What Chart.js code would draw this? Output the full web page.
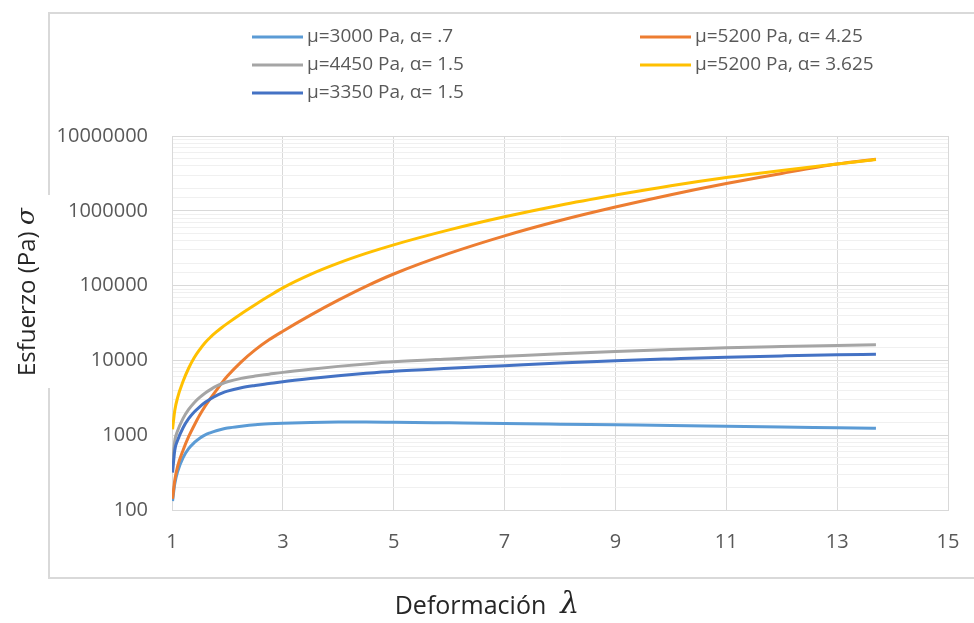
<!DOCTYPE html>
<html>
<head>
<meta charset="utf-8">
<title>Esfuerzo vs deformación</title>
<script src="https://cdn.jsdelivr.net/npm/chart.js"></script>
<style>
    body { margin: 0; background: #ffffff; }
    #wrap { position: relative; width: 974px; height: 623px; }
</style>
</head>
<body>
<div id="wrap"><canvas id="chartCanvas"></canvas></div>
<script>
    // deformación (lambda) sample points
    var lambda = [1.01, 1.05, 1.1, 1.2, 1.3, 1.4, 1.5, 1.6, 1.7, 1.8, 1.9, 2, 2.25, 2.5, 2.75, 3, 3.5, 4, 4.5, 5, 6, 7, 8, 9, 10, 11, 12, 13, 13.7];

    // esfuerzo (Pa) per curve
    var mu3000_a07 = [132, 224, 324, 501, 661, 794, 912, 1012, 1084, 1148, 1202, 1245, 1318, 1380, 1419, 1445, 1479, 1496, 1500, 1489, 1462, 1435, 1406, 1377, 1349, 1318, 1288, 1259, 1239];
    var mu5200_a425 = [141, 251, 380, 631, 955, 1349, 1862, 2455, 3162, 3981, 5012, 6166, 9550, 13800, 18840, 24550, 40270, 63830, 97720, 142900, 269200, 462400, 741300, 1122000, 1641000, 2317000, 3162000, 4217000, 4898000];
    var mu4450_a15 = [422, 841, 1135, 1679, 2213, 2723, 3199, 3673, 4102, 4519, 4875, 5188, 5754, 6166, 6531, 6918, 7621, 8318, 8974, 9572, 10470, 11350, 12300, 13180, 13960, 14720, 15310, 15850, 16140];
    var mu5200_a3625 = [1202, 2138, 3162, 5248, 7852, 10840, 13960, 17380, 20650, 23990, 27540, 31260, 42170, 55590, 72440, 93330, 141300, 199500, 269200, 350800, 555900, 831800, 1189000, 1622000, 2163000, 2786000, 3467000, 4217000, 4842000];
    var mu3350_a15 = [316, 631, 851, 1259, 1660, 2042, 2399, 2754, 3076, 3388, 3656, 3890, 4315, 4624, 4898, 5188, 5715, 6237, 6730, 7178, 7852, 8511, 9226, 9886, 10470, 11040, 11480, 11890, 12110];

    var seriesLabels = ['μ=3000 Pa, α= .7', 'μ=5200 Pa, α= 4.25', 'μ=4450 Pa, α= 1.5', 'μ=5200 Pa, α= 3.625', 'μ=3350 Pa, α= 1.5'];
    var seriesValues = [mu3000_a07, mu5200_a425, mu4450_a15, mu5200_a3625, mu3350_a15];
    var seriesColors = ['#5B9BD5', '#ED7D31', '#A5A5A5', '#FFC000', '#4472C4'];

    var xTitle = 'Deformación';
    var xSymbol = 'λ';
    var yTitle = 'Esfuerzo (Pa) ';
    var ySymbol = 'σ';

    function isDecade(v) {
        var l = Math.log10(v);
        return Math.abs(l - Math.round(l)) < 1e-9;
    }

    // marco gris alrededor del grafico, con hueco donde va el titulo del eje y
    var framePlugin = {
        id: 'frame',
        beforeDraw: function(chart) {
            var ctx = chart.ctx;
            ctx.save();
            ctx.strokeStyle = '#d9d9d9';
            ctx.lineWidth = 2;
            ctx.beginPath();
            ctx.moveTo(49, 195); ctx.lineTo(49, 13); ctx.lineTo(974, 13);
            ctx.moveTo(974, 578); ctx.lineTo(49, 578); ctx.lineTo(49, 388);
            ctx.stroke();
            ctx.restore();
        }
    };

    // titulos de los ejes (la letra griega va en cursiva)
    var titlesPlugin = {
        id: 'axisTitles',
        afterDraw: function(chart) {
            var ctx = chart.ctx;
            ctx.save();
            ctx.fillStyle = '#262626';
            ctx.textBaseline = 'middle';
            ctx.textAlign = 'left';

            // eje x
            ctx.font = '25px "Open Sans"';
            var w1 = ctx.measureText(xTitle).width;
            ctx.font = 'italic 30px "DejaVu Serif"';
            var w2 = ctx.measureText(xSymbol).width;
            var gap = 14;
            var x0 = 487 - (w1 + gap + w2) / 2;
            ctx.font = '25px "Open Sans"';
            ctx.fillText(xTitle, x0, 607);
            ctx.font = 'italic 30px "DejaVu Serif"';
            ctx.fillText(xSymbol, x0 + w1 + gap, 605);

            // eje y
            ctx.translate(28, 292);
            ctx.rotate(-Math.PI / 2);
            ctx.font = '24px "Open Sans"';
            var h1 = ctx.measureText(yTitle).width;
            ctx.font = 'italic 25px "DejaVu Serif"';
            var h2 = ctx.measureText(ySymbol).width;
            var y0 = -(h1 + h2) / 2;
            ctx.font = '24px "Open Sans"';
            ctx.fillText(yTitle, y0, 0);
            ctx.font = 'italic 25px "DejaVu Serif"';
            ctx.fillText(ySymbol, y0 + h1, -1);
            ctx.restore();
        }
    };

    // leyenda en dos columnas
    var legendPlugin = {
        id: 'twoColLegend',
        afterDraw: function(chart) {
            var ctx = chart.ctx;
            ctx.save();
            ctx.font = '19px "Open Sans"';
            ctx.textBaseline = 'middle';
            chart.data.datasets.forEach(function(ds, i) {
                var x = (i % 2 === 0) ? 252 : 640;
                var y = 37 + Math.floor(i / 2) * 28;
                ctx.strokeStyle = ds.borderColor;
                ctx.lineWidth = 3;
                ctx.beginPath();
                ctx.moveTo(x, y);
                ctx.lineTo(x + 51, y);
                ctx.stroke();
                ctx.fillStyle = '#595959';
                ctx.fillText(ds.label, x + 55, y);
            });
            ctx.restore();
        }
    };

    var datasets = seriesValues.map(function(vals, i) {
        return {
            label: seriesLabels[i],
            data: lambda.map(function(l, j) { return { x: l, y: vals[j] }; }),
            borderColor: seriesColors[i],
            backgroundColor: seriesColors[i],
            borderWidth: 3,
            pointRadius: 0,
            cubicInterpolationMode: 'monotone',
            order: seriesValues.length - i
        };
    });

    var ctx = document.getElementById('chartCanvas').getContext('2d');
    var chart = new Chart(ctx, {
        type: 'line',
        data: { datasets: datasets },
        plugins: [framePlugin, titlesPlugin, legendPlugin],
        options: {
            responsive: true,
            maintainAspectRatio: false,
            animation: false,
            layout: { padding: { left: 0, top: 136, right: 26, bottom: 0 } },
            plugins: {
                legend: { display: false },
                tooltip: { enabled: false }
            },
            scales: {
                x: {
                    type: 'linear',
                    min: 1,
                    max: 15,
                    ticks: {
                        stepSize: 2,
                        color: '#595959',
                        padding: 0,
                        font: { family: '"Open Sans"', size: 20 }
                    },
                    grid: { color: '#d9d9d9', drawTicks: true, tickLength: 20, tickColor: 'rgba(0,0,0,0)' },
                    border: { color: '#d9d9d9' },
                    afterFit: function(s) { s.height = 113; }
                },
                y: {
                    type: 'logarithmic',
                    min: 100,
                    max: 10000000,
                    ticks: {
                        autoSkip: false,
                        color: '#595959',
                        padding: 24,
                        font: { family: '"Open Sans"', size: 20 },
                        callback: function(v) { return isDecade(v) ? String(Math.round(v)) : ''; }
                    },
                    grid: {
                        drawTicks: false,
                        color: function(c) {
                            if (!c.tick) return '#d9d9d9';
                            return isDecade(c.tick.value) ? '#d9d9d9' : '#f0f0f0';
                        }
                    },
                    border: { color: '#d9d9d9' },
                    afterFit: function(s) { s.width = 172; }
                }
            }
        }
    });
</script>
</body>
</html>
